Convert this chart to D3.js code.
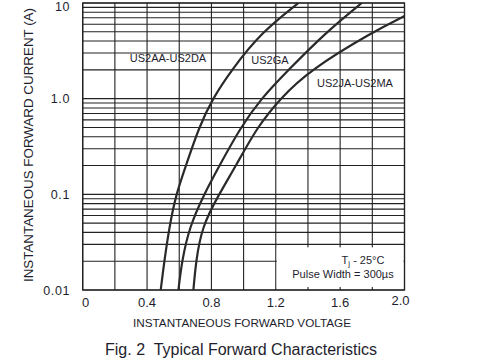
<!DOCTYPE html>
<html><head><meta charset="utf-8">
<script src="https://cdn.jsdelivr.net/npm/d3@7"></script>
<style>body{margin:0;background:#fff}svg{display:block}text{font-family:"Liberation Sans",Arial,sans-serif;fill:#1e1e2e}</style>
</head><body><div id="chart"></div>
<script>
// ---- data ----
const xTicks = [0, 0.4, 0.8, 1.2, 1.6, 2.0];
const xTickLabels = ["0", "0.4", "0.8", "1.2", "1.6", "2.0"];
const yTicks = [0.01, 0.1, 1, 10];
const yTickLabels = ["0.01", "0.1", "1.0", "10"];
const seriesNames = ["US2AA-US2DA", "US2GA", "US2JA-US2MA"];
// [voltage (V), current (A)]
const curveAA = [[0.485,0.01],[0.507,0.02],[0.539,0.046],[0.580,0.1],[0.642,0.2],[0.722,0.5],[0.807,1],[0.925,2],[1.114,5],[1.341,10]];
const curveGA = [[0.595,0.01],[0.616,0.02],[0.664,0.046],[0.754,0.1],[0.850,0.2],[0.981,0.5],[1.108,1],[1.279,2],[1.515,5],[1.734,10]];
const curveJA = [[0.688,0.01],[0.704,0.02],[0.741,0.046],[0.847,0.1],[0.953,0.2],[1.083,0.5],[1.226,1],[1.413,2],[1.804,5],[2.0,7.3]];
const noteLines = ["T", "Pulse Width = 300\u00b5s"];

// ---- layout ----
const W = 492, H = 358;
const L = 82.7, R = 404.5, T = 3, B = 290;
const svg = d3.select("#chart").append("svg").attr("width", W).attr("height", H);
svg.append("rect").attr("width", W).attr("height", H).attr("fill", "#fff");

const x = d3.scaleLinear().domain([0, 2]).range([L, R]);
const y = d3.scaleLog().domain([0.01, 10]).range([B, T]);
const ink = "#222";

// grid
const g = svg.append("g");
const hVals = [];
[0.01, 0.1, 1].forEach(d => { for (let k = 1; k <= 9; k++) hVals.push(d * k); });
hVals.push(10);
g.selectAll(".h").data(hVals).join("line")
  .attr("x1", L).attr("x2", R).attr("y1", d => y(d)).attr("y2", d => y(d))
  .attr("stroke", ink).attr("stroke-width", 1.1);
const vVals = d3.range(0, 11).map(i => i * 0.2);
g.selectAll(".v").data(vVals).join("line")
  .attr("x1", d => x(d)).attr("x2", d => x(d)).attr("y1", T).attr("y2", B)
  .attr("stroke", ink).attr("stroke-width", 1.1);

// curves
svg.append("clipPath").attr("id", "clip").append("rect").attr("x", L).attr("y", T).attr("width", R - L).attr("height", B - T);
const line = d3.line().x(d => x(d[0])).y(d => y(d[1])).curve(d3.curveBasis);
svg.append("g").attr("clip-path", "url(#clip)").selectAll("path").data([curveAA, curveGA, curveJA]).join("path")
  .attr("d", line).attr("fill", "none").attr("stroke", "#2a2a2a").attr("stroke-width", 2.2);

// note box
svg.append("rect").attr("x", x(1.2) + 1).attr("y", y(0.03) + 3).attr("width", x(2.0) - x(1.2) - 2).attr("height", y(0.01) - y(0.03) - 6).attr("fill", "#fff");
const t1 = svg.append("text").attr("x", 363).attr("y", 264).attr("text-anchor", "middle").attr("font-size", 11);
t1.append("tspan").text(noteLines[0]);
t1.append("tspan").attr("font-size", 8).attr("dy", 2).text("j");
t1.append("tspan").attr("dy", -2).text(" - 25\u00b0C");
svg.append("text").attr("x", 343).attr("y", 278).attr("text-anchor", "middle").attr("font-size", 11).text(noteLines[1]);

// frame
svg.append("rect").attr("x", L).attr("y", T).attr("width", R - L).attr("height", B - T).attr("fill", "none").attr("stroke", ink).attr("stroke-width", 1.3);

// series labels
const labelPos = [[168, 62], [270, 64], [355, 87]];
svg.selectAll(".sl").data(seriesNames).join("text")
  .attr("x", (d, i) => labelPos[i][0]).attr("y", (d, i) => labelPos[i][1])
  .attr("text-anchor", "middle").attr("font-size", 11).text(d => d);

// tick labels
svg.selectAll(".xt").data(xTicks).join("text")
  .attr("x", (d, i) => x(d) + (i === 0 ? 3 : i === xTicks.length - 1 ? -4 : 0))
  .attr("y", (d, i) => i === xTicks.length - 1 ? 305 : 307)
  .attr("text-anchor", "middle").attr("font-size", 13).text((d, i) => xTickLabels[i]);
svg.selectAll(".yt").data(yTicks).join("text")
  .attr("x", 70).attr("y", d => Math.max(y(d) + 4.5, 11))
  .attr("text-anchor", "end").attr("font-size", 12.5).attr("letter-spacing", 0.6).text((d, i) => yTickLabels[i]);

// axis titles
svg.append("text").attr("x", 242).attr("y", 327).attr("text-anchor", "middle").attr("font-size", 11)
  .attr("textLength", 218).attr("lengthAdjust", "spacingAndGlyphs").text("INSTANTANEOUS FORWARD VOLTAGE");
svg.append("text").attr("transform", "translate(33,145) rotate(-90)").attr("text-anchor", "middle").attr("font-size", 12.5)
  .attr("textLength", 274).attr("lengthAdjust", "spacingAndGlyphs").text("INSTANTANEOUS FORWARD CURRENT (A)");
svg.append("text").attr("x", 241).attr("y", 355).attr("text-anchor", "middle").attr("font-size", 16)
  .attr("textLength", 272).attr("lengthAdjust", "spacingAndGlyphs").text("Fig. 2\u00a0 Typical Forward Characteristics");
</script></body></html>
